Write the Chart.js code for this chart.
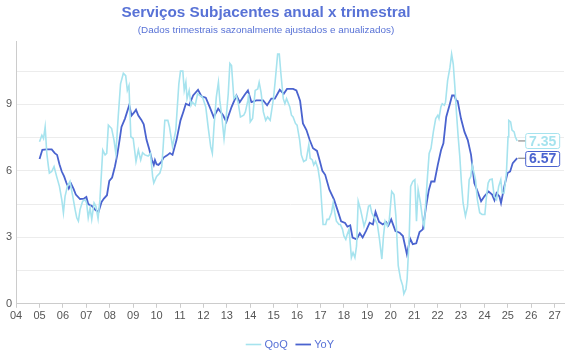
<!DOCTYPE html>
<html>
<head>
<meta charset="utf-8">
<script src="https://cdn.jsdelivr.net/npm/chart.js@4/dist/chart.umd.min.js"></script>
<style>
  body { margin: 0; background: #fff; }
  #wrap { width: 570px; height: 360px; }
</style>
</head>
<body>
<div id="wrap"><canvas id="chart"></canvas></div>
<script>
// monthly data, x = decimal year
const qoqDates = [2005.00,2005.10,2005.17,2005.24,2005.31,2005.38,2005.42,2005.52,2005.62,2005.73,2005.85,2005.95,2006.02,2006.09,2006.19,2006.30,2006.42,2006.52,2006.59,2006.66,2006.73,2006.84,2006.94,2007.01,2007.08,2007.16,2007.23,2007.33,2007.41,2007.50,2007.58,2007.70,2007.80,2007.87,2007.94,2008.08,2008.18,2008.26,2008.36,2008.46,2008.58,2008.68,2008.75,2008.82,2008.90,2009.00,2009.12,2009.22,2009.32,2009.40,2009.50,2009.64,2009.74,2009.83,2009.88,2010.00,2010.14,2010.22,2010.28,2010.35,2010.48,2010.55,2010.68,2010.82,2010.95,2011.02,2011.12,2011.18,2011.25,2011.30,2011.39,2011.47,2011.53,2011.65,2011.75,2011.85,2011.96,2012.10,2012.21,2012.31,2012.38,2012.45,2012.55,2012.64,2012.70,2012.78,2012.88,2012.95,2013.06,2013.13,2013.20,2013.30,2013.40,2013.48,2013.58,2013.72,2013.79,2013.90,2013.93,2014.00,2014.10,2014.21,2014.32,2014.38,2014.46,2014.56,2014.66,2014.74,2014.85,2014.99,2015.06,2015.17,2015.24,2015.31,2015.41,2015.48,2015.55,2015.69,2015.76,2015.83,2015.93,2016.00,2016.11,2016.18,2016.28,2016.39,2016.50,2016.56,2016.65,2016.71,2016.79,2016.89,2016.99,2017.11,2017.22,2017.28,2017.36,2017.47,2017.54,2017.61,2017.68,2017.79,2017.85,2017.94,2018.00,2018.08,2018.14,2018.22,2018.32,2018.39,2018.47,2018.54,2018.61,2018.71,2018.80,2018.86,2018.95,2019.05,2019.12,2019.19,2019.26,2019.33,2019.43,2019.52,2019.62,2019.69,2019.76,2019.86,2019.94,2020.04,2020.14,2020.22,2020.32,2020.42,2020.51,2020.56,2020.65,2020.70,2020.79,2020.85,2020.94,2021.03,2021.10,2021.17,2021.27,2021.38,2021.43,2021.54,2021.64,2021.72,2021.82,2021.92,2022.01,2022.06,2022.14,2022.20,2022.29,2022.34,2022.43,2022.53,2022.60,2022.67,2022.74,2022.81,2022.88,2022.95,2023.02,2023.09,2023.19,2023.28,2023.35,2023.42,2023.48,2023.56,2023.62,2023.70,2023.80,2023.90,2024.02,2024.09,2024.16,2024.23,2024.33,2024.42,2024.52,2024.61,2024.70,2024.76,2024.84,2024.94,2025.01,2025.04,2025.12,2025.18,2025.27,2025.32,2025.40];
const qoqValues = [7.31,7.61,7.46,7.98,6.79,6.19,5.9,5.97,6.19,5.75,5.3,4.7,4.11,4.85,5.3,5.52,4.85,4.25,3.88,3.73,4.25,4.63,4.7,4.55,3.88,4.33,3.81,4.55,4.4,3.84,4.7,6.94,6.72,6.79,8.06,7.91,7.39,6.79,8.43,9.93,10.4,10.3,9.63,9.85,7.54,7.46,6.42,6.94,6.49,6.82,6.72,6.67,6.79,5.75,5.45,5.75,5.9,6.19,7.09,8.28,8.28,7.98,7.09,7.84,9.93,10.5,10.5,9.63,10.0,9.26,9.63,8.96,9.1,8.96,9.48,9.4,9.33,8.88,7.91,7.09,6.79,7.98,9.33,10.0,9.18,8.51,7.46,8.14,9.48,10.85,10.75,9.26,9.4,9.1,8.43,8.51,8.66,9.18,9.48,8.21,8.36,9.63,9.7,10.0,9.55,8.66,8.28,8.43,8.28,9.26,10.0,11.27,11.27,10.37,9.26,9.03,9.26,8.88,8.51,8.43,8.14,8.06,7.39,6.72,6.42,6.49,7.17,6.57,6.49,6.27,6.42,6.12,5.45,3.58,3.58,3.81,3.81,4.11,4.55,4.11,3.73,3.58,3.58,3.36,3.06,2.91,3.13,3.36,2.09,2.31,2.09,2.61,4.63,4.25,3.81,3.5,3.81,4.4,4.45,4.11,3.96,3.81,3.58,2.91,2.02,3.06,3.73,3.5,3.81,5.07,4.93,3.96,1.72,1.12,0.82,0.45,0.67,1.12,3.06,5.3,5.52,5.6,3.73,5.15,4.55,3.66,3.5,5.3,6.79,7.02,7.76,8.36,8.51,8.36,8.88,9.03,8.96,9.1,10.08,10.67,11.27,10.82,9.78,8.58,7.54,6.64,5.45,4.55,3.96,4.4,5.6,5.75,6.27,5.9,5.6,4.7,4.11,4.03,4.03,4.85,5.45,5.6,5.63,4.85,4.7,5.3,5.6,5.0,5.0,5.9,7.54,8.28,8.21,7.84,7.76,7.54,7.35];

const yoyDates = [2005.00,2005.12,2005.30,2005.52,2005.65,2005.75,2005.85,2005.95,2006.05,2006.15,2006.25,2006.35,2006.45,2006.55,2006.73,2006.90,2007.00,2007.08,2007.25,2007.40,2007.52,2007.65,2007.75,2007.88,2007.98,2008.10,2008.22,2008.32,2008.42,2008.50,2008.65,2008.83,2008.93,2009.05,2009.12,2009.22,2009.35,2009.45,2009.57,2009.68,2009.80,2009.88,2009.93,2010.00,2010.08,2010.20,2010.30,2010.45,2010.57,2010.68,2010.85,2011.02,2011.14,2011.25,2011.39,2011.56,2011.77,2011.92,2012.10,2012.27,2012.44,2012.63,2012.84,2012.98,2013.20,2013.41,2013.55,2013.77,2013.90,2014.05,2014.26,2014.55,2014.72,2014.90,2015.05,2015.26,2015.43,2015.57,2015.83,2015.97,2016.05,2016.13,2016.25,2016.40,2016.54,2016.68,2016.85,2016.97,2017.08,2017.20,2017.38,2017.58,2017.72,2017.88,2018.05,2018.15,2018.27,2018.37,2018.54,2018.68,2018.80,2018.95,2019.10,2019.24,2019.35,2019.50,2019.66,2019.80,2019.90,2020.02,2020.20,2020.38,2020.52,2020.69,2020.83,2020.94,2021.09,2021.23,2021.37,2021.51,2021.62,2021.73,2021.87,2022.01,2022.15,2022.25,2022.37,2022.51,2022.62,2022.72,2022.79,2022.86,2023.00,2023.15,2023.29,2023.43,2023.57,2023.71,2023.86,2024.00,2024.18,2024.33,2024.43,2024.52,2024.64,2024.71,2024.85,2024.99,2025.10,2025.21,2025.40];
const yoyValues = [6.54,6.95,6.97,6.97,6.8,6.72,6.3,5.97,5.75,5.45,5.2,5.42,5.2,4.93,4.73,4.75,4.82,4.5,4.4,4.22,4.15,4.6,4.75,4.9,5.55,5.7,6.2,6.72,7.4,7.98,8.36,8.96,8.5,8.65,8.76,8.5,8.3,8.1,7.4,7.0,6.5,6.27,6.49,6.3,6.27,6.4,6.6,6.7,6.8,6.72,7.39,8.28,8.66,9.03,8.96,9.4,9.66,9.36,9.3,8.88,8.43,8.81,8.51,8.21,8.88,9.4,9.1,9.45,9.63,9.1,9.18,9.18,8.96,9.26,9.26,9.66,9.48,9.7,9.7,9.63,9.4,9.15,8.14,7.84,7.39,7.02,6.9,6.45,6.0,5.82,5.15,4.7,4.25,3.72,3.65,3.48,3.54,2.99,2.91,3.18,2.99,3.3,3.66,3.58,4.15,3.7,3.58,3.69,3.54,3.81,3.28,3.21,3.06,2.24,2.94,2.69,2.73,3.24,3.36,4.4,5.1,5.52,5.52,6.27,6.94,7.24,8.43,8.96,9.4,9.4,9.18,9.15,8.36,7.76,7.39,6.72,5.45,5.07,4.63,4.85,5.07,4.93,4.67,5.0,4.85,4.55,5.3,5.9,5.97,6.35,6.57];

const yearTicks = [2004,2005,2006,2007,2008,2009,2010,2011,2012,2013,2014,2015,2016,2017,2018,2019,2020,2021,2022,2023,2024,2025,2026,2027];
const yTickStep = 1.5;
const yLabelStep = 3;

const toPoints = (xs, ys) => xs.map((x, i) => ({ x: x, y: ys[i] }));

// boxes with the last value at the end of each line
const endLabels = {
  id: 'endLabels',
  afterLayout(chart) {
    // the original centres its titles a bit left and the legend on the plot
    chart.boxes.forEach(b => {
      if (b.position === 'top' && b.options && b.options.text) { b.left -= 17; b.right -= 17; }
    });
    if (chart.legend) {
      chart.legend.left += 8; chart.legend.right += 8;
      chart.legend.top += 4; chart.legend.bottom += 4;
    }
  },
  afterDatasetsDraw(chart) {
    const ctx = chart.ctx;
    chart.data.datasets.forEach((ds, i) => {
      const meta = chart.getDatasetMeta(i);
      const last = meta.data[meta.data.length - 1];
      const val = ds.data[ds.data.length - 1].y;
      const x = last.x, y = last.y;
      ctx.save();
      ctx.strokeStyle = '#777';
      ctx.lineWidth = 1;
      ctx.beginPath();
      ctx.moveTo(x + 1, y);
      ctx.lineTo(x + 9, y);
      ctx.stroke();
      const bx = x + 8, bw = 34, bh = 15;
      ctx.fillStyle = '#fff';
      ctx.strokeStyle = ds.borderColor;
      ctx.beginPath();
      ctx.roundRect(bx + 0.5, Math.round(y - bh / 2) + 0.5, bw, bh, 2);
      ctx.fill();
      ctx.stroke();
      ctx.fillStyle = ds.borderColor;
      ctx.font = 'bold 14px "Liberation Sans", Arial, sans-serif';
      ctx.textAlign = 'center';
      ctx.textBaseline = 'middle';
      ctx.fillText(val.toFixed(2), bx + bw / 2 + 0.5, Math.round(y) + 1);
      ctx.restore();
    });
  }
};

Chart.defaults.font.family = '"Liberation Sans", Arial, sans-serif';

new Chart(document.getElementById('chart'), {
  type: 'line',
  data: {
    datasets: [
      {
        label: 'QoQ',
        data: toPoints(qoqDates, qoqValues),
        borderColor: '#a6e3ee',
        backgroundColor: '#a6e3ee',
        borderWidth: 1.6,
        pointRadius: 0,
        tension: 0
      },
      {
        label: 'YoY',
        data: toPoints(yoyDates, yoyValues),
        borderColor: '#4a63cf',
        backgroundColor: '#4a63cf',
        borderWidth: 1.8,
        pointRadius: 0,
        tension: 0
      }
    ]
  },
  options: {
    responsive: true,
    maintainAspectRatio: false,
    animation: false,
    layout: { padding: { left: 2, right: 6, top: 2, bottom: 4 } },
    plugins: {
      title: {
        display: true,
        text: 'Serviços Subjacentes anual x trimestral',
        color: '#5872d6',
        font: { size: 15.3, weight: 'bold' },
        padding: { top: 2, bottom: 2 }
      },
      subtitle: {
        display: true,
        text: '(Dados trimestrais sazonalmente ajustados e anualizados)',
        color: '#5872d6',
        font: { size: 9.9 },
        padding: { bottom: 5 }
      },
      legend: {
        position: 'bottom',
        labels: {
          usePointStyle: true,
          pointStyle: 'line',
          boxWidth: 12,
          color: '#5872d6',
          font: { size: 11 },
          padding: 10
        }
      },
      tooltip: { enabled: false }
    },
    scales: {
      x: {
        type: 'linear',
        min: 2004,
        max: 2027.4,
        ticks: {
          color: '#555',
          font: { size: 11 },
          padding: 2,
          maxRotation: 0,
          autoSkip: false,
          callback: v => String(v % 100).padStart(2, '0')
        },
        afterBuildTicks: axis => { axis.ticks = yearTicks.map(v => ({ value: v })); },
        grid: { drawOnChartArea: false, drawTicks: true, tickLength: 4, color: '#ccc' },
        border: { color: '#ccc' }
      },
      y: {
        min: 0,
        max: 11.85,
        ticks: {
          stepSize: yTickStep,
          color: '#555',
          font: { size: 11 },
          padding: 4,
          callback: v => (v % yLabelStep === 0 ? String(v) : '')
        },
        afterBuildTicks: axis => { axis.ticks = axis.ticks.filter(t => Math.abs(t.value / yTickStep - Math.round(t.value / yTickStep)) < 1e-6); },
        grid: { color: '#ececec', drawTicks: false },
        border: { color: '#ccc' }
      }
    }
  },
  plugins: [endLabels]
});
</script>
</body>
</html>
